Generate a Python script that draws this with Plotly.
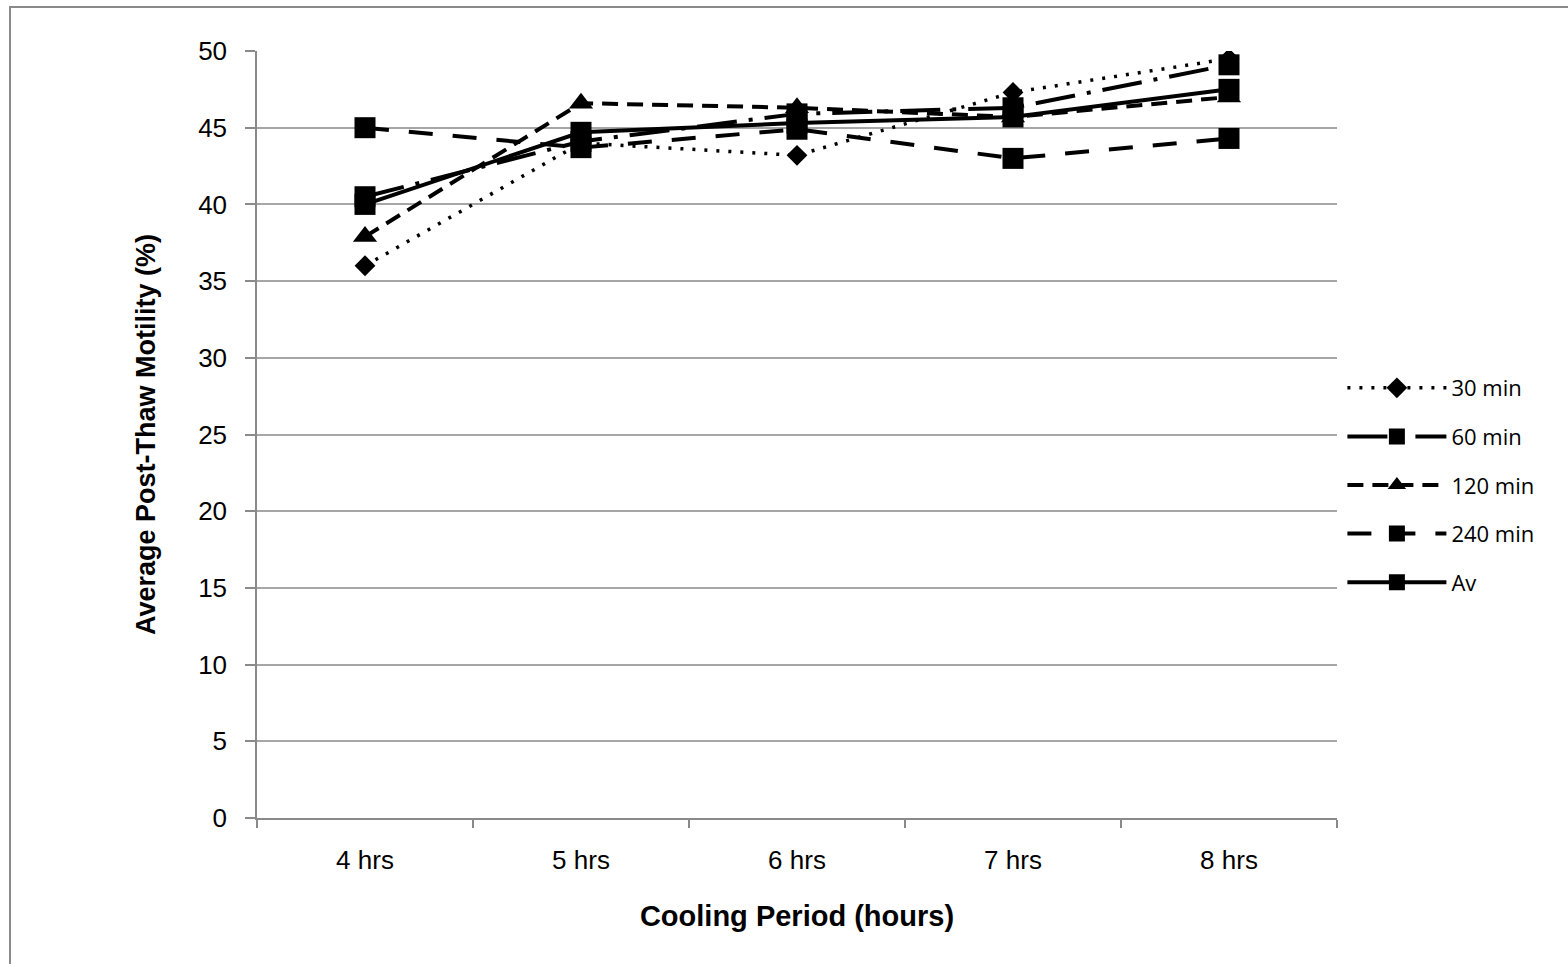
import plotly.graph_objects as go

# Cooling period categories
periods = ["4 hrs", "5 hrs", "6 hrs", "7 hrs", "8 hrs"]

# Average post-thaw motility (%) per equilibration time
motility_30 = [36.0, 44.0, 43.2, 47.3, 49.5]
motility_60 = [40.5, 44.1, 45.9, 46.3, 49.1]
motility_120 = [37.9, 46.6, 46.3, 45.7, 47.0]
motility_240 = [45.0, 43.7, 44.9, 43.0, 44.3]
motility_av = [40.0, 44.7, 45.3, 45.7, 47.5]

series_names = ["30 min", "60 min", "120 min", "240 min", "Av"]

y_ticks = [0, 5, 10, 15, 20, 25, 30, 35, 40, 45, 50]

W, H = 1568, 964
M_L, M_R, M_T, M_B = 257, 231, 51, 146

styles = [
    dict(dash="3px,9px", width=3.5, symbol="diamond", size=16),
    dict(dash="40px,12px,4px,12px", width=4, symbol="square", size=21),
    dict(dash="16px,9px", width=4, symbol="triangle-up", size=21),
    dict(dash="24px,20px", width=4, symbol="square", size=21),
    dict(dash="solid", width=4, symbol="square", size=21),
]

fig = go.Figure()
for name, vals, st in zip(
    series_names,
    [motility_30, motility_60, motility_120, motility_240, motility_av],
    styles,
):
    fig.add_trace(
        go.Scatter(
            x=periods,
            y=vals,
            name=name,
            mode="lines+markers",
            legendgroup=name,
            line=dict(color="black", width=st["width"], dash=st["dash"]),
            marker=dict(color="black", symbol=st["symbol"], size=st["size"],
                        line=dict(width=0)),
        )
    )

pw = W - M_L - M_R
ph = H - M_T - M_B

# outer chart border
fig.add_shape(
    type="rect", xref="paper", yref="paper",
    x0=(10 - M_L) / pw, x1=(W + 10 - M_L) / pw,
    y0=-(H + 10 - M_T - ph) / ph, y1=1 + (M_T - 7) / ph,
    line=dict(color="#8a8a8a", width=2), layer="below",
)

fig.update_layout(
    width=W, height=H,
    margin=dict(l=M_L, r=M_R, t=M_T, b=M_B),
    paper_bgcolor="white", plot_bgcolor="white",
    font=dict(family="Liberation Sans, Arial, sans-serif", color="black"),
    showlegend=True,
    legend=dict(
        x=1.005, xanchor="left", y=0.588, yanchor="top",
        font=dict(family="Open Sans, sans-serif", size=22, color="black"),
        tracegroupgap=17, itemwidth=99,
        bgcolor="rgba(0,0,0,0)",
    ),
    xaxis=dict(
        type="category",
        range=[-0.5, 4.5],
        tickson="boundaries",
        ticks="outside", ticklen=8, tickcolor="#8a8a8a", tickwidth=1.5,
        showline=True, linecolor="#8a8a8a", linewidth=1.5,
        showgrid=False,
        tickfont=dict(size=26),
        ticklabelstandoff=18,
        title=dict(text="<b>Cooling Period (hours)</b>", font=dict(size=29), standoff=32),
    ),
    yaxis=dict(
        range=[0, 50],
        tickvals=y_ticks,
        ticks="outside", ticklen=10, tickcolor="#8a8a8a", tickwidth=1.5,
        showline=True, linecolor="#8a8a8a", linewidth=1.5,
        showgrid=True, gridcolor="#a6a6a6", gridwidth=1.5,
        zeroline=False,
        tickfont=dict(size=26),
        ticklabelstandoff=13,
        title=dict(text="<b>Average Post-Thaw Motility (%)</b>", font=dict(size=27), standoff=35),
    ),
)

fig.write_html("out.html")
